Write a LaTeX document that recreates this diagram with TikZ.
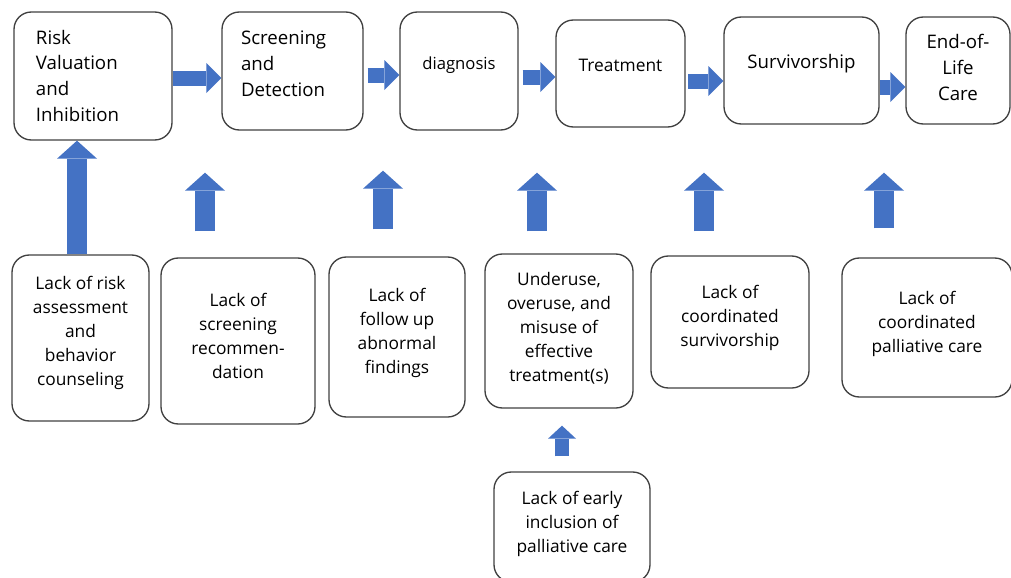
\documentclass[tikz,border=0pt]{standalone}
\usepackage{fontspec}
\setmainfont{Open Sans}
\usetikzlibrary{arrows.meta}
\newlength\pxl
\setlength\pxl{0.75pt}
\newcommand{\lift}[1]{\rule[-#1]{0pt}{#1}}
\definecolor{boxgray}{HTML}{404040}
\definecolor{arrowblue}{HTML}{4472C4}

\begin{document}
\begin{tikzpicture}[x=0.75pt,y=-0.75pt,
  box/.style={draw=boxgray,line width=1pt,rounded corners=13pt,inner sep=0pt,align=center,
              font=\fontsize{13}{18}\selectfont},
  stage/.style={box,font=\fontsize{12.5}{19.5}\selectfont,text height=9pt,text depth=11.5pt},
  bigstage/.style={box,font=\fontsize{14}{19.5}\selectfont},
  rarrow/.style={draw=arrowblue,line width=11.25pt,-{Triangle[length=11.25pt,width=22.5pt,line width=0pt]}},
  uarrow/.style={draw=arrowblue,line width=15pt,-{Triangle[length=13.5pt,width=30pt,line width=0pt]}},
  smallarrow/.style={draw=arrowblue,line width=10.5pt,-{Triangle[length=9.75pt,width=21pt,line width=0pt]}}]
   \useasboundingbox (0,0) rectangle (1011,578);
   % stages of care
   \node[bigstage,align=left,text width=114\pxl,minimum width=158\pxl,minimum height=128\pxl] (R) at (93,76) {Risk\\Valuation\\and\\Inhibition};
   \node[bigstage,align=left,text width=103\pxl,minimum width=141\pxl,minimum height=118\pxl] (S) at (292.5,71) {Screening\\and\\Detection\lift{10.5pt}};
   \node[stage,minimum width=118\pxl,minimum height=118\pxl] (D) at (459,71) {diagnosis};
   \node[stage,font=\fontsize{13}{19.5}\selectfont,minimum width=129\pxl,minimum height=107\pxl] (T) at (620.5,73.5) {Treatment};
   \node[stage,font=\fontsize{14}{19.5}\selectfont,minimum width=155\pxl,minimum height=107\pxl] (V) at (801.5,70.5) {Survivorship};
   \node[bigstage,minimum width=104\pxl,minimum height=107\pxl] (E) at (958,70.5) {End-of-\\Life\\Care\lift{5.25pt}};
   % gaps
   \begin{scope}[every node/.style={box}]
    \node[minimum width=137\pxl,minimum height=166\pxl] (B1) at (80.5,338) {Lack of risk\\assessment\\and\\behavior\\counseling\lift{10.5pt}};
    \node[minimum width=154\pxl,minimum height=166\pxl] (B2) at (238,341) {Lack of\\screening\\recommen-\\dation\lift{7.5pt}};
    \node[minimum width=136\pxl,minimum height=160\pxl] (B3) at (397,337) {Lack of\\follow up\\abnormal\\findings\lift{9pt}};
    \node[minimum width=148\pxl,minimum height=154\pxl] (B4) at (559,331) {Underuse,\\overuse, and\\misuse of\\effective\\treatment(s)\lift{6pt}};
    \node[minimum width=158\pxl,minimum height=132\pxl] (B5) at (730,322) {Lack of\\coordinated\\survivorship\lift{9pt}};
    \node[minimum width=170\pxl,minimum height=139\pxl] (B6) at (927,327.5) {Lack of\\coordinated\\palliative care\lift{9pt}};
    \node[minimum width=156\pxl,minimum height=110\pxl] (B7) at (572,527) {Lack of early\\inclusion of\\palliative care\lift{7.5pt}};
   \end{scope}
   % flow
   \draw[rarrow] (R.east |- 0,78) -- (S.west |- 0,78);
   \draw[rarrow,shorten <=3pt] (S.east |- 0,75) -- (D.west |- 0,75);
   \draw[rarrow,shorten <=3pt] (D.east |- 0,77) -- (T.west |- 0,77);
   \draw[rarrow,shorten <=2pt] (T.east |- 0,81) -- (V.west |- 0,81);
   \draw[rarrow] (V.east |- 0,87) -- (E.west |- 0,87);
   \draw[uarrow] (B1.north -| 77,0) -- (R.south -| 77,0);
   \draw[uarrow,shorten <=19.5pt,shorten >=31.5pt] (B2.north -| 205,0) -- (S.south -| 205,0);
   \draw[uarrow,shorten <=20.25pt,shorten >=30pt] (B3.north -| 383,0) -- (D.south -| 383,0);
   \draw[uarrow,shorten <=16.5pt,shorten >=33.75pt] (B4.north -| 537,0) -- (T.south -| 537,0);
   \draw[uarrow,shorten <=18pt,shorten >=36pt] (B5.north -| 704,0) -- (V.south -| 704,0);
   \draw[uarrow,shorten <=21.75pt,shorten >=36pt] (B6.north -| 884,0) -- (E.south -| 884,0);
   \draw[smallarrow,shorten <=11.25pt,shorten >=12.75pt] (B7.north -| 562,0) -- (B4.south -| 562,0);
\end{tikzpicture}
\end{document}
